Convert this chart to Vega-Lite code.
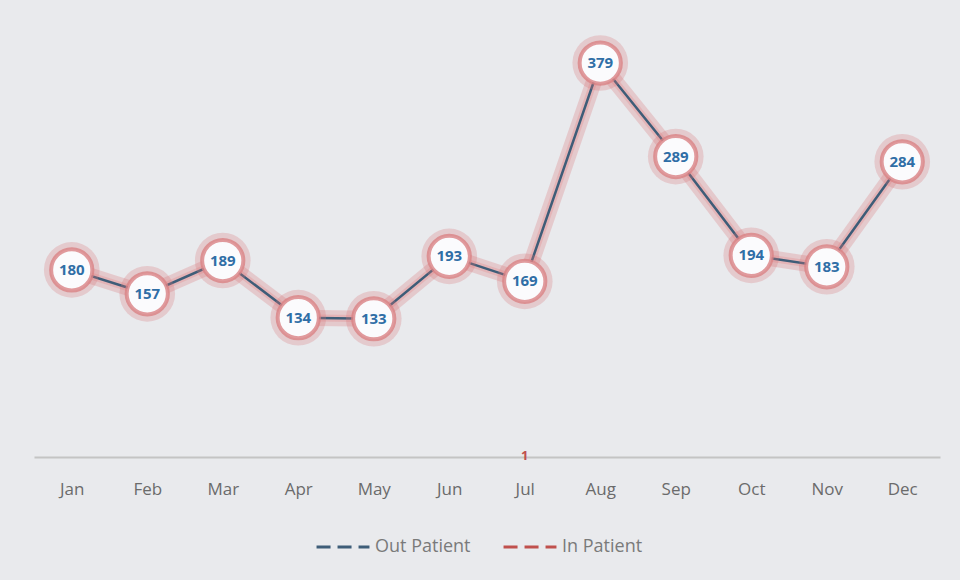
{
  "$schema": "https://vega.github.io/schema/vega-lite/v6.json",
  "width": 906,
  "height": 447,
  "padding": {"left": 34, "top": 10, "right": 20, "bottom": 28},
  "background": "#e9eaed",
  "config": {"view": {"stroke": null}, "font": "Open Sans"},
  "datasets": {
    "main": [
      {"month": "Jan", "series": "Out Patient", "value": 180},
      {"month": "Feb", "series": "Out Patient", "value": 157},
      {"month": "Mar", "series": "Out Patient", "value": 189},
      {"month": "Apr", "series": "Out Patient", "value": 134},
      {"month": "May", "series": "Out Patient", "value": 133},
      {"month": "Jun", "series": "Out Patient", "value": 193},
      {"month": "Jul", "series": "Out Patient", "value": 169},
      {"month": "Aug", "series": "Out Patient", "value": 379},
      {"month": "Sep", "series": "Out Patient", "value": 289},
      {"month": "Oct", "series": "Out Patient", "value": 194},
      {"month": "Nov", "series": "Out Patient", "value": 183},
      {"month": "Dec", "series": "Out Patient", "value": 284},
      {"month": "Jul", "series": "In Patient", "value": 1}
    ]
  },
  "data": {"name": "main"},
  "encoding": {
    "x": {
      "field": "month", "type": "ordinal",
      "sort": ["Jan","Feb","Mar","Apr","May","Jun","Jul","Aug","Sep","Oct","Nov","Dec"],
      "scale": {"type": "point", "padding": 0.5},
      "axis": {"title": null, "ticks": false, "domainColor": "#c4c4c4", "domainWidth": 2, "labelFontSize": 17, "labelColor": "#6b6b6b", "labelPadding": 24, "labelAngle": 0}
    },
    "y": {
      "field": "value", "type": "quantitative",
      "scale": {"domain": [0, 430], "nice": false},
      "axis": null
    }
  },
  "layer": [
    {
      "transform": [{"filter": "datum.series == 'Out Patient'"}],
      "mark": {"type": "line", "color": "#dc7f82", "strokeWidth": 16, "opacity": 0.3, "strokeJoin": "round", "strokeCap": "round"},
      "encoding": {}
    },
    {
      "transform": [{"filter": "datum.series == 'Out Patient'"}],
      "mark": {"type": "line", "color": "#e3a0a2", "strokeWidth": 7, "opacity": 0.5, "strokeJoin": "round"},
      "encoding": {}
    },
    {
      "mark": {"type": "line", "strokeWidth": 2.5},
      "encoding": {
        "color": {
          "field": "series", "type": "nominal",
          "scale": {"domain": ["Out Patient", "In Patient"], "range": ["#3e5d78", "#c0504d"]},
          "legend": {
            "title": null, "orient": "none", "direction": "horizontal",
            "legendX": 281, "legendY": 509,
            "symbolType": "stroke", "symbolDash": [14, 7], "symbolStrokeWidth": 3, "symbolSize": 2800,
            "labelFontSize": 18, "labelColor": "#7a7a7a", "columnPadding": 26, "labelOffset": 4
          }
        }
      }
    },
    {
      "transform": [{"filter": "datum.series == 'Out Patient'"}],
      "mark": {"type": "point", "shape": "circle", "filled": true, "fill": "#d9787b", "opacity": 0.28, "size": 3100},
      "encoding": {}
    },
    {
      "transform": [{"filter": "datum.series == 'Out Patient'"}],
      "mark": {"type": "point", "shape": "circle", "filled": true, "fill": "#fbfbfd", "stroke": "#d98285", "strokeWidth": 4, "strokeOpacity": 0.8, "opacity": 1, "size": 1700},
      "encoding": {}
    },
    {
      "transform": [{"filter": "datum.series == 'Out Patient'"}],
      "mark": {"type": "text", "fontSize": 15, "fontWeight": "bold", "color": "#2f6ea6"},
      "encoding": {"text": {"field": "value", "type": "quantitative"}}
    },
    {
      "transform": [{"filter": "datum.series == 'In Patient'"}],
      "mark": {"type": "text", "fontSize": 13, "fontWeight": "bold", "color": "#c0504d", "dy": 0},
      "encoding": {"text": {"field": "value", "type": "quantitative"}}
    }
  ]
}
